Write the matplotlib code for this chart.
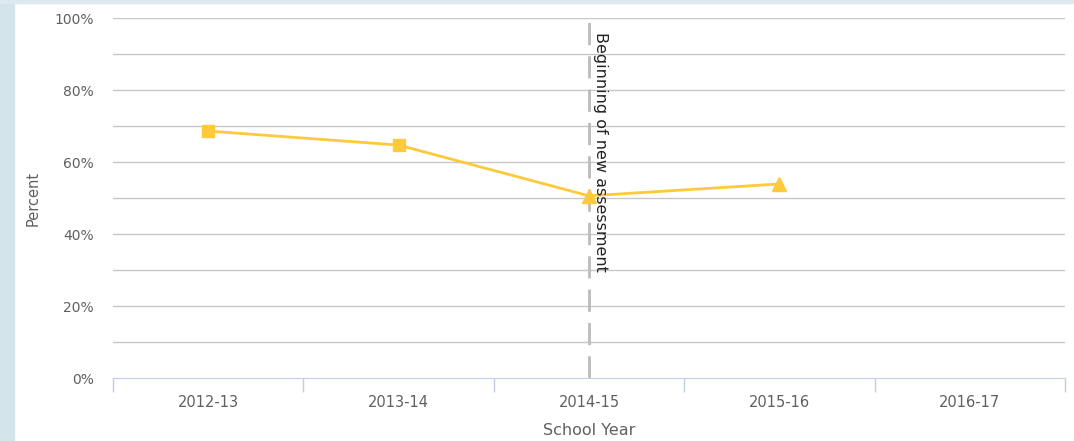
import matplotlib.pyplot as plt
from matplotlib.patches import Rectangle

years = ["2012-13", "2013-14", "2014-15", "2015-16", "2016-17"]
old_vals = [68.6, 64.7, 50.6]          # 2012-13 .. 2014-15 (square, joins into new)
new_vals = [50.6, 53.9]                # 2014-15 .. 2015-16 (triangle)
yticks = [0, 20, 40, 60, 80, 100]
ytick_labels = ["0%", "20%", "40%", "60%", "80%", "100%"]

line_color = "#FFC93C"
grid_color = "#C8C8C8"
axis_color = "#C0D0E0"
text_color = "#606060"

fig = plt.figure(figsize=(10.74, 4.41), dpi=100)
# left and top decoration strips
fig.patches.append(Rectangle((0, 0), 14 / 1074, 1, transform=fig.transFigure,
                             color="#D3E4EA", zorder=0))
fig.patches.append(Rectangle((0, 1 - 3 / 441), 1, 3 / 441, transform=fig.transFigure,
                             color="#DCE9EE", zorder=0))

ax = fig.add_axes([113 / 1074, (441 - 378) / 441, (1065 - 113) / 1074, 360 / 441])
ax.set_xlim(-0.5, 4.5)
ax.set_ylim(0, 100)

for y in range(10, 101, 10):
    ax.axhline(y, color=grid_color, lw=1, zorder=1)

ax.plot([0, 1, 2], old_vals, color=line_color, lw=2, zorder=3)
ax.plot([2, 3], new_vals, color=line_color, lw=2, zorder=3)
ax.plot([0, 1], old_vals[:2], ls="none", marker="s", ms=9, color=line_color, zorder=4)
ax.plot([2, 3], new_vals, ls="none", marker="^", ms=10, color=line_color, zorder=4)

ax.plot([2, 2], [0, 100], color="#BBBBBB", lw=2, ls=(0, (8, 4)), zorder=2)
ax.text(2.02, 96, "Beginning of new assessment", rotation=-90, ha="left", va="top",
        fontsize=11.5, color="#222222", zorder=5)

for s in ["top", "right", "left"]:
    ax.spines[s].set_visible(False)
ax.spines["bottom"].set_color(axis_color)

ax.set_yticks(yticks)
ax.set_yticklabels(ytick_labels)
ax.tick_params(axis="y", length=0, pad=14, labelsize=10, labelcolor=text_color)

ax.set_xticks(range(len(years)))
ax.set_xticklabels(years)
ax.set_xticks([i - 0.5 for i in range(len(years) + 1)], minor=True)
ax.tick_params(axis="x", which="major", length=0, pad=12, labelsize=10.5, labelcolor=text_color)
ax.tick_params(axis="x", which="minor", length=10, color=axis_color, width=1)

ax.set_ylabel("Percent", fontsize=10.5, color=text_color)
ax.yaxis.set_label_coords(-72 / 952, 0.5)
ax.set_xlabel("School Year", fontsize=11.5, color=text_color)
ax.xaxis.set_label_coords(0.5, -45 / 360)

fig.savefig("out.png", dpi=100)
